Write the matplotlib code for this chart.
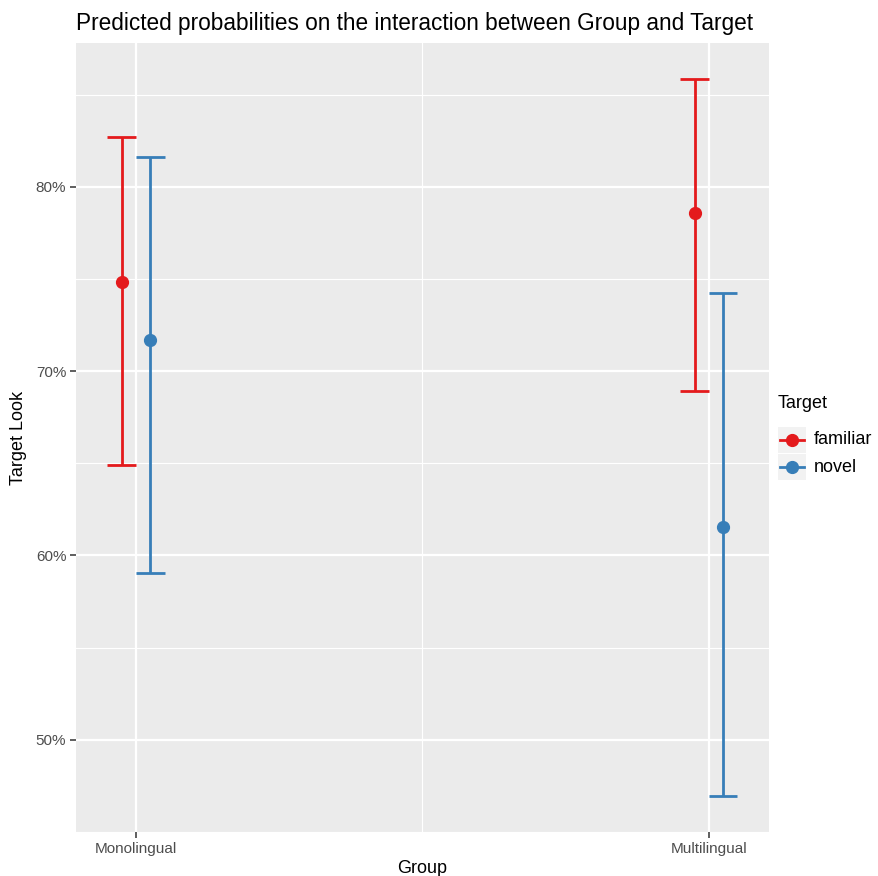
import matplotlib
matplotlib.use("Agg")
import matplotlib.pyplot as plt
from matplotlib.ticker import PercentFormatter, FixedLocator
from matplotlib.lines import Line2D
from matplotlib.patches import Rectangle

plt.rcParams["font.family"] = ["Liberation Sans", "DejaVu Sans"]

groups = ["Monolingual", "Multilingual"]
targets = ["familiar", "novel"]
colors = {"familiar": "#E41A1C", "novel": "#377EB8"}

predicted = {"familiar": [0.7485, 0.7859], "novel": [0.7170, 0.6155]}
conf_low = {"familiar": [0.6492, 0.6893], "novel": [0.5905, 0.4696]}
conf_high = {"familiar": [0.8271, 0.8586], "novel": [0.8163, 0.7425]}

dodge = {"familiar": -0.025, "novel": 0.025}
cap_half = 0.025

fig = plt.figure(figsize=(8.79, 8.76), dpi=100)
ax = fig.add_axes([76 / 879, 1 - 832 / 876, (769 - 76) / 879, (832 - 43) / 876])
ax.set_facecolor("#EBEBEB")
for s in ax.spines.values():
    s.set_visible(False)

xpos = [1, 2]
for t in targets:
    for i, g in enumerate(groups):
        x = xpos[i] + dodge[t]
        c = colors[t]
        ax.plot([x, x], [conf_low[t][i], conf_high[t][i]], color=c, lw=2.0, zorder=3, solid_capstyle="butt")
        for yv in (conf_low[t][i], conf_high[t][i]):
            ax.plot([x - cap_half, x + cap_half], [yv, yv], color=c, lw=2.0, zorder=3, solid_capstyle="butt")
        ax.plot([x], [predicted[t][i]], "o", color=c, ms=8.5, zorder=4, mec=c)

ax.set_xlim(0.895, 2.105)
ax.set_ylim(0.45, 0.878)

ax.set_xticks(xpos)
ax.set_xticklabels(groups)
ax.xaxis.set_minor_locator(FixedLocator([1.5]))
ax.yaxis.set_major_locator(FixedLocator([0.5, 0.6, 0.7, 0.8]))
ax.yaxis.set_minor_locator(FixedLocator([0.45, 0.55, 0.65, 0.75, 0.85]))
ax.yaxis.set_major_formatter(PercentFormatter(1.0, decimals=0))

ax.grid(which="major", color="white", lw=1.6)
ax.grid(which="minor", color="white", lw=0.8)
ax.set_axisbelow(True)

ax.tick_params(which="major", length=4, width=1.1, color="#333333", labelcolor="#4D4D4D", labelsize=11, pad=3)
ax.tick_params(which="minor", length=0)

ax.set_xlabel("Group", fontsize=13, color="black", labelpad=3)
ax.set_ylabel("Target Look", fontsize=13, color="black", labelpad=6)
ax.set_title("Predicted probabilities on the interaction between Group and Target",
             fontsize=16.3, loc="left", pad=9, color="black")

# legend
fig.text(778 / 879, 1 - 403 / 876, "Target", fontsize=13, va="center", ha="left")
key_y = [440, 467]
for t, ky in zip(targets, key_y):
    y0 = 1 - (ky + 13) / 876
    fig.add_artist(Rectangle((778 / 879, y0), 28 / 879, 26 / 876, transform=fig.transFigure,
                             facecolor="#F2F2F2", edgecolor="none"))
    fig.add_artist(Line2D([780 / 879, 804 / 879], [1 - ky / 876] * 2, transform=fig.transFigure,
                          color=colors[t], lw=2.0))
    fig.add_artist(Line2D([792 / 879], [1 - ky / 876], transform=fig.transFigure,
                          marker="o", ms=8.5, color=colors[t], lw=0))
    fig.text(814 / 879, 1 - ky / 876, t, fontsize=13, va="center", ha="left")

fig.savefig("out.png", dpi=100, facecolor="white")
